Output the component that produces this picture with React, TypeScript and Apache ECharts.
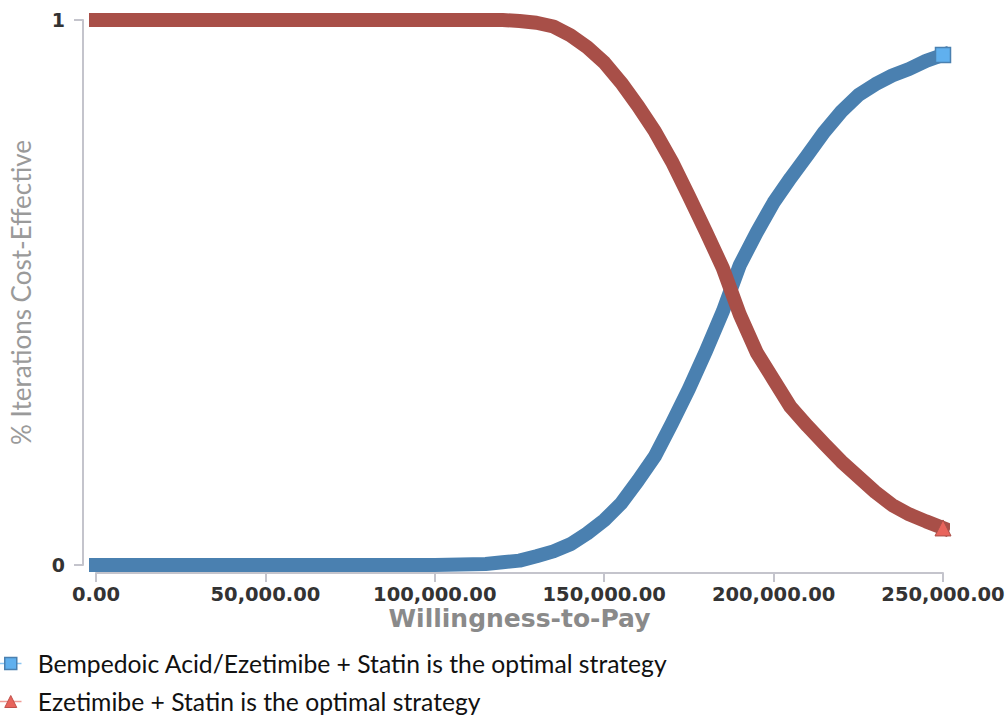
import React, { useEffect, useRef } from "react";
import * as echarts from "echarts";

const wtp = [0, 50000, 100000, 115000, 120000, 125000, 130000, 135000, 140000, 145000, 150000, 155000, 160000, 165000, 170000, 175000, 180000, 185000, 190000, 195000, 200000, 205000, 210000, 215000, 220000, 225000, 230000, 235000, 240000, 245000, 250000];
const bempedoic = [0, 0, 0, 0.002, 0.005, 0.008, 0.016, 0.025, 0.038, 0.058, 0.082, 0.113, 0.155, 0.2, 0.26, 0.323, 0.392, 0.465, 0.55, 0.61, 0.665, 0.71, 0.752, 0.795, 0.832, 0.862, 0.882, 0.898, 0.91, 0.925, 0.936];
const ezetimibe = [1, 1, 1, 1, 1, 0.998, 0.995, 0.988, 0.972, 0.95, 0.922, 0.885, 0.842, 0.795, 0.74, 0.677, 0.612, 0.545, 0.46, 0.39, 0.34, 0.29, 0.255, 0.222, 0.19, 0.162, 0.134, 0.11, 0.093, 0.08, 0.068];
const xTicks = [0, 50000, 100000, 150000, 200000, 250000];
const seriesNames = [
  "Bempedoic Acid/Ezetimibe + Statin is the optimal strategy",
  "Ezetimibe + Statin is the optimal strategy",
];

function buildData(ys: number[]) {
  return wtp.map((x, i) =>
    i === wtp.length - 1 ? { value: [x, ys[i]] } : { value: [x, ys[i]], symbol: "none" }
  );
}

export default function App() {
  const ref = useRef<HTMLDivElement>(null);
  useEffect(() => {
    if (!ref.current) return;
    const chart = echarts.init(ref.current, undefined, { renderer: "svg" });
    const axisLine = { show: true, onZero: false, lineStyle: { color: "#c4c4cc", width: 2 } };
    const legendText = {
      color: "#111111",
      fontFamily: "Lato",
      fontSize: 24.7,
      lineHeight: 24,
      padding: [0, 0, 0, 12],
    };
    chart.setOption({
      animation: false,
      backgroundColor: "#ffffff",
      grid: { left: 96, right: 62, top: 20, bottom: 152, outerBoundsMode: "none", containLabel: false },
      xAxis: {
        type: "value",
        min: xTicks[0],
        max: xTicks[xTicks.length - 1],
        interval: 50000,
        offset: 8,
        axisLine,
        axisTick: { show: true, length: 9, lineStyle: { color: "#c4c4cc", width: 2 } },
        splitLine: { show: false },
        axisLabel: {
          margin: 11,
          color: "#333333",
          fontFamily: "DejaVu Sans",
          fontWeight: "bold",
          fontSize: 19.5,
          formatter: (v: number) =>
            v.toLocaleString("en-US", { minimumFractionDigits: 2, maximumFractionDigits: 2 }),
        },
        name: "Willingness-to-Pay",
        nameLocation: "middle",
        nameGap: 33,
        nameMoveOverlap: false,
        nameTextStyle: { color: "#8a8a8a", fontFamily: "DejaVu Sans", fontWeight: "bold", fontSize: 25 },
      },
      yAxis: {
        type: "value",
        min: 0,
        max: 1,
        interval: 1,
        offset: 13,
        axisLine,
        axisTick: { show: true, length: 9, lineStyle: { color: "#c4c4cc", width: 2 } },
        splitLine: { show: false },
        axisLabel: {
          margin: 18,
          color: "#333333",
          fontFamily: "DejaVu Sans",
          fontWeight: "bold",
          fontSize: 19,
        },
        name: "% Iterations Cost-Effective",
        nameLocation: "middle",
        nameGap: 49,
        nameMoveOverlap: false,
        nameTextStyle: { color: "#9a9a9a", fontFamily: "Lato", fontSize: 26 },
      },
      legend: [
        {
          left: 0,
          top: 651,
          padding: 0,
          itemWidth: 20,
          itemHeight: 15,
          textStyle: legendText,
          data: [
            {
              name: seriesNames[0],
              itemStyle: { color: "#60b0ee", borderColor: "#4a80b0", borderWidth: 1.5 },
              lineStyle: { color: "#8cc6f2", width: 1.5 },
            },
          ],
        },
        {
          left: 0,
          top: 689,
          padding: 0,
          itemWidth: 20,
          itemHeight: 15,
          textStyle: legendText,
          data: [
            {
              name: seriesNames[1],
              itemStyle: { color: "#e8645c", borderColor: "#c0504a", borderWidth: 1 },
              lineStyle: { color: "#ef9a94", width: 1.5 },
            },
          ],
        },
      ],
      series: [
        {
          name: seriesNames[0],
          type: "line",
          clip: false,
          symbol: "rect",
          symbolSize: 15,
          showSymbol: true,
          itemStyle: { color: "#60b0ee", borderColor: "#4a80b0", borderWidth: 1.5 },
          lineStyle: { color: "#4a80b0", width: 14, cap: "square", join: "round" },
          data: buildData(bempedoic),
        },
        {
          name: seriesNames[1],
          type: "line",
          clip: false,
          symbol: "triangle",
          symbolSize: 16,
          showSymbol: true,
          itemStyle: { color: "#e8645c", borderColor: "#a84f48", borderWidth: 1 },
          lineStyle: { color: "#a84f48", width: 14, cap: "square", join: "round" },
          data: buildData(ezetimibe),
        },
      ],
    });
    return () => chart.dispose();
  }, []);
  return <div ref={ref} style={{ width: 1005, height: 717, position: "absolute", left: 0, top: 0 }} />;
}
